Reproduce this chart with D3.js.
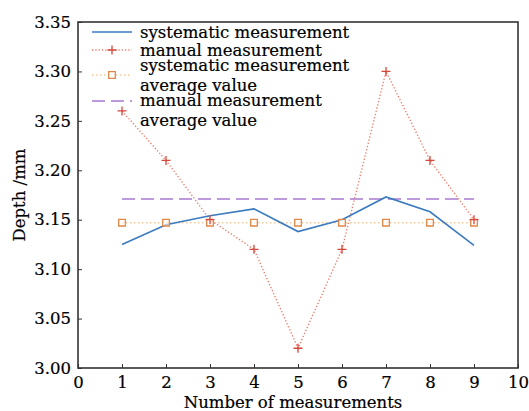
<!DOCTYPE html>
<html>
<head>
<meta charset="utf-8">
<script src="https://cdn.jsdelivr.net/npm/d3@7"></script>
<style>
  body { margin: 0; background: #fff; }
  svg text { font-family: "DejaVu Serif", serif; fill: #000; stroke: #000; stroke-width: 0.2; }
</style>
</head>
<body>
<svg id="chart" width="529" height="411"></svg>
<script>
//
// Data
//

var measurements = [1, 2, 3, 4, 5, 6, 7, 8, 9]
var systematic = [3.125, 3.145, 3.154, 3.161, 3.138, 3.150, 3.173, 3.158, 3.124]
var manual = [3.26, 3.21, 3.15, 3.12, 3.02, 3.12, 3.30, 3.21, 3.15]
var systematicAvg = [3.147, 3.147, 3.147, 3.147, 3.147, 3.147, 3.147, 3.147, 3.147]
var manualAvg = [3.171, 3.171, 3.171, 3.171, 3.171, 3.171, 3.171, 3.171, 3.171]
var xTicks = [0, 1, 2, 3, 4, 5, 6, 7, 8, 9, 10]
var yTicks = [3.00, 3.05, 3.10, 3.15, 3.20, 3.25, 3.30, 3.35]

//
// Setup
//

var colorSys = '#3b7bbf'
var colorManual = '#d8463a'
var colorManualLine = '#ec7f72'
var colorSysAvg = '#e0884a'
var colorSysAvgLine = '#f3c99c'
var colorManualAvg = '#a679cf'

var margin = { left: 78, top: 22, right: 11, bottom: 43 }
var width = 529 - margin.left - margin.right
var height = 411 - margin.top - margin.bottom

var svg = d3.select('#chart')
var g = svg.append('g').attr('transform', 'translate(' + margin.left + ',' + margin.top + ')')

var x = d3.scaleLinear().domain([0, 10]).range([0, width])
var y = d3.scaleLinear().domain([3.00, 3.35]).range([height, 0])

// axes
var xAxis = g.append('g').attr('transform', 'translate(0,' + height + ')')
    .call(d3.axisBottom(x).tickValues(xTicks).tickSizeInner(-4).tickSizeOuter(0).tickPadding(8))
var yAxis = g.append('g')
    .call(d3.axisLeft(y).tickValues(yTicks).tickFormat(d3.format('.2f')).tickSizeInner(-4).tickSizeOuter(0).tickPadding(7))

;[xAxis, yAxis].forEach(function (a) {
    a.select('.domain').remove()
    a.selectAll('line').attr('stroke', '#333').attr('stroke-width', 1)
    a.selectAll('text').attr('font-size', 16.5).attr('font-family', 'DejaVu Serif').attr('fill', '#000')
})

// frame
g.append('rect')
    .attr('width', width).attr('height', height)
    .attr('fill', 'none').attr('stroke', '#333').attr('stroke-width', 1.6)

// axis titles
g.append('text')
    .attr('x', width / 2 - 5).attr('y', height + 40)
    .attr('text-anchor', 'middle').attr('font-size', 16.5)
    .text('Number of measurements')
svg.append('text')
    .attr('transform', 'translate(25,' + (margin.top + height / 2) + ') rotate(-90)')
    .attr('text-anchor', 'middle').attr('font-size', 16.5)
    .text('Depth /mm')

function lineOf(values) {
    return d3.line()
        .x(function (d, i) { return x(measurements[i]) })
        .y(function (d) { return y(d) })(values)
}

// systematic average (dotted + squares)
g.append('path').attr('d', lineOf(systematicAvg))
    .attr('fill', 'none').attr('stroke', colorSysAvgLine).attr('stroke-width', 1.5)
    .attr('stroke-dasharray', '1.5,2.5')

// manual average (dashed)
g.append('path').attr('d', lineOf(manualAvg))
    .attr('fill', 'none').attr('stroke', colorManualAvg).attr('stroke-width', 1.5)
    .attr('stroke-dasharray', '13,6')

// manual (dotted + plus)
g.append('path').attr('d', lineOf(manual))
    .attr('fill', 'none').attr('stroke', colorManualLine).attr('stroke-width', 1.4)
    .attr('stroke-dasharray', '1.3,2')

// systematic (solid)
g.append('path').attr('d', lineOf(systematic))
    .attr('fill', 'none').attr('stroke', colorSys).attr('stroke-width', 1.6)

var squareSym = d3.symbol().type(d3.symbolSquare).size(44)
var plusSym = 'M-4.5,0H4.5M0,-4.5V4.5'

g.selectAll('.sq').data(systematicAvg).enter().append('path')
    .attr('transform', function (d, i) { return 'translate(' + x(measurements[i]) + ',' + y(d) + ')' })
    .attr('d', squareSym).attr('fill', '#fff').attr('fill-opacity', 0.6)
    .attr('stroke', colorSysAvg).attr('stroke-width', 1.3)

g.selectAll('.pl').data(manual).enter().append('path')
    .attr('transform', function (d, i) { return 'translate(' + x(measurements[i]) + ',' + y(d) + ')' })
    .attr('d', plusSym).attr('stroke', colorManual).attr('stroke-width', 1.3)

//
// Legend
//

var lg = g.append('g').attr('transform', 'translate(14,0)')
var sx0 = 0, sx1 = 40, tx = 48

function legendText(yy, str) {
    lg.append('text').attr('x', tx).attr('y', yy).attr('dy', '0.35em')
        .attr('font-size', 16.5).text(str)
}

// row 1
lg.append('line').attr('x1', sx0).attr('x2', sx1).attr('y1', 10).attr('y2', 10)
    .attr('stroke', colorSys).attr('stroke-width', 1.6)
legendText(10, 'systematic measurement')

// row 2
lg.append('line').attr('x1', sx0).attr('x2', sx1).attr('y1', 28).attr('y2', 28)
    .attr('stroke', colorManualLine).attr('stroke-width', 1.4).attr('stroke-dasharray', '1.3,2')
lg.append('path').attr('transform', 'translate(20,28)').attr('d', plusSym)
    .attr('stroke', colorManual).attr('stroke-width', 1.3)
legendText(28, 'manual measurement')

// row 3
lg.append('line').attr('x1', sx0).attr('x2', sx1).attr('y1', 53).attr('y2', 53)
    .attr('stroke', colorSysAvgLine).attr('stroke-width', 1.5).attr('stroke-dasharray', '1.5,2.5')
lg.append('path').attr('transform', 'translate(20,53)').attr('d', squareSym)
    .attr('fill', '#fff').attr('stroke', colorSysAvg).attr('stroke-width', 1.3)
legendText(43, 'systematic measurement')
legendText(63, 'average value')

// row 4
lg.append('line').attr('x1', sx0).attr('x2', sx1).attr('y1', 79).attr('y2', 79)
    .attr('stroke', colorManualAvg).attr('stroke-width', 1.5).attr('stroke-dasharray', '13,6')
legendText(78, 'manual measurement')
legendText(98, 'average value')
</script>
</body>
</html>
